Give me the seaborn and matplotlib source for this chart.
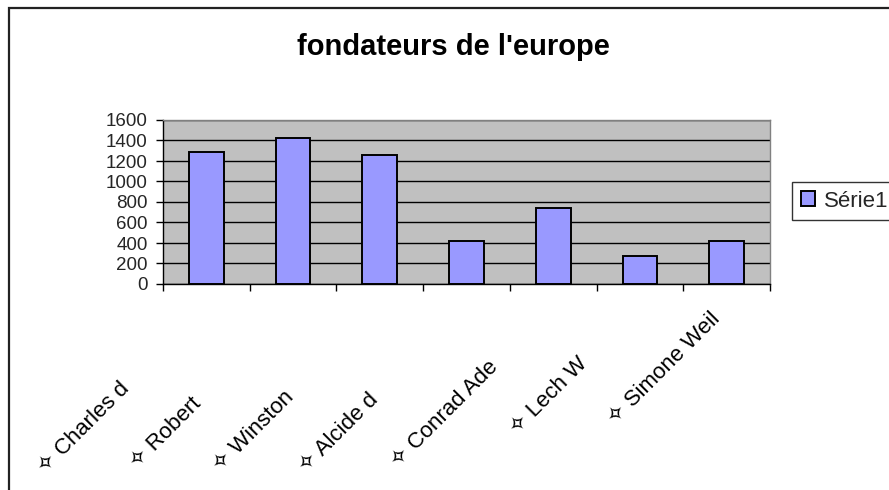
import matplotlib
matplotlib.use("Agg")
import numpy as np
import pandas as pd
import seaborn as sns
import matplotlib.pyplot as plt
from matplotlib.font_manager import FontProperties
from matplotlib.patches import Rectangle

# ---- data ----
full_names = ["Charles de Gaulle", "Robert Schuman", "Winston Churchill",
              "Alcide de Gasperi", "Conrad Adenauer", "Lech Walesa", "Simone Weil"]
shown_names = ["Charles d", "Robert", "Winston", "Alcide d",
               "Conrad Ade", "Lech W", "Simone Weil"]
values = [1290, 1420, 1255, 420, 745, 270, 420]
series_name = "Série1"
title = "fondateurs de l'europe"
yticks = [0, 200, 400, 600, 800, 1000, 1200, 1400, 1600]
prefix = "\u2727 "

sns.set_theme(style="white")
plt.rcParams["font.family"] = ["Liberation Sans", "DejaVu Sans"]

W, H, DPI = 889, 490, 100
fig = plt.figure(figsize=(W / DPI, H / DPI), dpi=DPI, facecolor="white")
ax = fig.add_axes([163 / W, 1 - 284 / H, (770 - 163) / W, (284 - 120) / H])

df = pd.DataFrame({"name": full_names, "value": values})
sns.barplot(data=df, x="name", y="value", order=full_names, color="#9999ff",
            saturation=1, width=0.4, edgecolor="black", linewidth=1.4,
            ax=ax, label=series_name, zorder=3)

ax.set_facecolor("#c0c0c0")
ax.set_ylim(0, 1600)
ax.set_xlim(-0.5, len(full_names) - 0.5)
ax.set_yticks(yticks)
ax.set_yticklabels([str(v) for v in yticks], fontsize=13.5)
ax.yaxis.grid(True, color="black", linewidth=1.0, zorder=0)
ax.xaxis.grid(False)
ax.set_axisbelow(True)
ax.set_xlabel("")
ax.set_ylabel("")
ax.set_xticks(np.arange(-0.5, len(full_names), 1.0))
ax.set_xticklabels([])
ax.tick_params(axis="both", direction="out", length=5, width=1, color="black",
               left=True, bottom=True)
ax.tick_params(axis="y", pad=6)
for s in ["left", "bottom"]:
    ax.spines[s].set_color("black")
    ax.spines[s].set_linewidth(1.0)
for s in ["top", "right"]:
    ax.spines[s].set_color("#808080")
    ax.spines[s].set_linewidth(1.0)

# category labels: full names where the tail is not visible in the reference
fs_lab = 16
fp = FontProperties(family=["Liberation Sans", "DejaVu Sans"], size=fs_lab)
fp_hidden = FontProperties(family=["Liberation Sans", "DejaVu Sans"], size=fs_lab * 1.2)
renderer = fig.canvas.get_renderer()
c = np.cos(np.pi / 4)
for i, (full, shown) in enumerate(zip(full_names, shown_names)):
    hidden = full[len(shown):]
    if hidden:
        w_px, _, _ = renderer.get_text_width_height_descent(hidden, fp_hidden, ismath=False)
    else:
        w_px = 0.0
    w_pt = w_px * 72 / DPI
    ax.annotate(prefix + shown, xy=(i, 0), xycoords=ax.get_xaxis_transform(),
                xytext=(-7 - w_pt * c, -23 - w_pt * c), textcoords="offset points",
                rotation=45, rotation_mode="anchor", ha="right", va="center",
                fontproperties=fp, color="black", annotation_clip=False)

fig.text(453 / W, 1 - 47 / H, title, ha="center", va="center",
         fontsize=21, fontweight="bold", color="black")

handles, labels = ax.get_legend_handles_labels()
leg = fig.legend(handles[:1], [series_name], loc="center left",
                 bbox_to_anchor=(792 / W, 1 - 201 / H), frameon=True,
                 fancybox=False, fontsize=16, handlelength=0.65, handleheight=0.65,
                 handletextpad=0.4, borderpad=0.4, borderaxespad=0)
leg.get_frame().set_edgecolor("black")
leg.get_frame().set_linewidth(1.0)
if ax.get_legend() is not None:
    ax.get_legend().remove()

fig.patches.append(Rectangle((8.5 / W, -0.05), 1.1, 1 - 8.5 / H + 0.05,
                             transform=fig.transFigure, fill=False,
                             edgecolor="#222222", linewidth=1.6))

fig.savefig("out.png", dpi=DPI, facecolor="white")
